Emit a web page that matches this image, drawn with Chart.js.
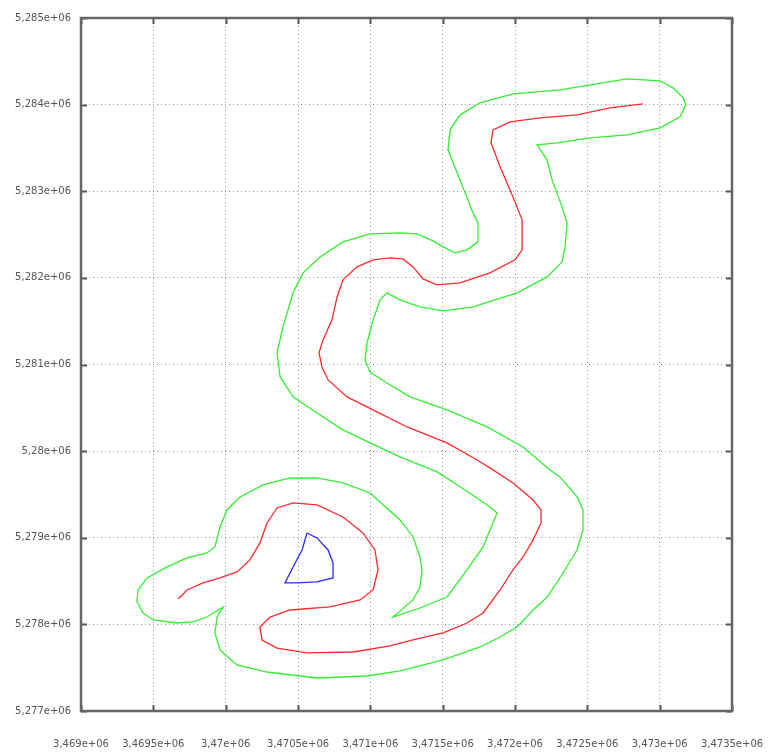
<!DOCTYPE html>
<html>
<head>
<meta charset="utf-8">
<script src="https://cdn.jsdelivr.net/npm/chart.js@4/dist/chart.umd.min.js"></script>
<style>
html,body{margin:0;padding:0;background:#fff;}
canvas{display:block;}
</style>
</head>
<body>
<canvas id="c" width="777" height="754"></canvas>
<script>
// Tick values
const xTicks = [3469000,3469500,3470000,3470500,3471000,3471500,3472000,3472500,3473000,3473500];
const yTicks = [5277000,5278000,5279000,5280000,5281000,5282000,5283000,5284000,5285000];

// Green contour (closed)
const greenX = [3473182,3473162,3473092,3473003,3472775,3472519,3472311,3471986,3471758,3471620,
3471551,3471537,3471620,3471710,3471744,3471744,3471668,3471585,3471503,3471433,
3471323,3471205,3470998,3470811,3470652,3470535,3470466,3470396,3470355,3470376,
3470466,3470631,3470811,3470998,3471205,3471461,3471655,3471827,3471876,3471779,
3471668,3471530,3471343,3471157,3471295,3471343,3471357,3471343,3471295,3471205,
3471067,3470998,3470811,3470631,3470445,3470258,3470099,3470009,3469961,3469926,
3469871,3469733,3469595,3469456,3469394,3469387,3469429,3469498,3469664,3469774,
3469871,3469982,3469940,3469926,3469961,3470078,3470286,3470631,3470977,3471205,
3471503,3471758,3471897,3472014,3472125,3472222,3472332,3472429,3472470,3472470,
3472429,3472311,3472242,3472056,3471807,3471530,3471274,3471115,3470998,3470963,
3470977,3471019,3471067,3471115,3471205,3471343,3471503,3471710,3472014,3472222,
3472325,3472346,3472360,3472325,3472256,3472222,3472152,3472291,3472519,3472775,
3473003,3473141,3473182];
const greenY = [5283997,5284078,5284194,5284275,5284298,5284228,5284171,5284124,5284021,5283882,
5283709,5283478,5283131,5282750,5282635,5282416,5282323,5282289,5282358,5282427,
5282508,5282519,5282508,5282416,5282242,5282058,5281827,5281434,5281134,5280857,
5280626,5280441,5280245,5280095,5279933,5279760,5279552,5279356,5279286,5278894,
5278628,5278316,5278189,5278085,5278282,5278432,5278628,5278778,5279009,5279206,
5279413,5279517,5279633,5279690,5279690,5279610,5279471,5279321,5279125,5278894,
5278824,5278767,5278663,5278536,5278397,5278259,5278132,5278051,5278016,5278028,
5278085,5278201,5278085,5277901,5277704,5277531,5277450,5277381,5277404,5277462,
5277589,5277739,5277854,5277970,5278166,5278316,5278593,5278859,5279090,5279321,
5279471,5279702,5279783,5280048,5280279,5280476,5280626,5280787,5280914,5281053,
5281249,5281515,5281746,5281827,5281746,5281665,5281619,5281665,5281827,5282011,
5282185,5282358,5282635,5282820,5283131,5283362,5283536,5283559,5283616,5283651,
5283732,5283859,5283997];

// Red contour (open)
const redX = [3472885,3472657,3472429,3472173,3471966,3471848,3471834,3471897,3471986,3472049,
3472049,3472000,3471827,3471620,3471461,3471364,3471295,3471226,3471136,3471019,
3470908,3470811,3470770,3470735,3470673,3470645,3470666,3470708,3470839,3471046,
3471254,3471530,3471738,3471848,3471986,3472125,3472180,3472180,3472125,3472056,
3471986,3471897,3471779,3471668,3471503,3471295,3471136,3470880,3470562,3470355,
3470251,3470237,3470307,3470445,3470721,3470929,3471019,3471053,3471032,3470949,
3470811,3470631,3470466,3470355,3470286,3470237,3470168,3470078,3469961,3469843,
3469733,3469671];
const redY = [5284009,5283963,5283882,5283847,5283801,5283709,5283559,5283282,5282935,5282670,
5282323,5282208,5282058,5281942,5281919,5281988,5282127,5282219,5282231,5282208,
5282127,5281977,5281780,5281515,5281284,5281134,5280972,5280822,5280626,5280453,
5280279,5280095,5279898,5279783,5279633,5279436,5279321,5279171,5278975,5278778,
5278628,5278397,5278132,5278016,5277901,5277820,5277751,5277681,5277670,5277727,
5277820,5277970,5278085,5278166,5278201,5278282,5278397,5278628,5278859,5279055,
5279240,5279379,5279402,5279344,5279171,5278940,5278744,5278605,5278536,5278478,
5278397,5278293];

// Blue contour (closed)
const blueX = [3470562,3470631,3470708,3470742,3470742,3470631,3470493,3470410,3470466,3470528,3470562];
const blueY = [5279055,5278998,5278859,5278709,5278536,5278490,5278478,5278478,5278663,5278859,5279055];

function pts(xs, ys){ return xs.map((x,i)=>({x:x, y:ys[i]})); }
function fmt(v){
  let s = (v/1e6).toFixed(4).replace(/0+$/,'').replace(/\.$/,'');
  return s.replace('.', ',') + 'e+06';
}

const framePlugin = {
  id: 'frame',
  afterDatasetsDraw(chart){
    const {ctx, chartArea:a, scales} = chart;
    ctx.save();
    ctx.strokeStyle = '#555';
    ctx.lineWidth = 2;
    ctx.beginPath();
    xTicks.forEach(v=>{
      const px = Math.round(scales.x.getPixelForValue(v))+0.5;
      ctx.moveTo(px, a.bottom); ctx.lineTo(px, a.bottom-6);
      ctx.moveTo(px, a.top); ctx.lineTo(px, a.top+6);
    });
    yTicks.forEach(v=>{
      const py = Math.round(scales.y.getPixelForValue(v))+0.5;
      ctx.moveTo(a.left, py); ctx.lineTo(a.left+6, py);
      ctx.moveTo(a.right, py); ctx.lineTo(a.right-6, py);
    });
    ctx.stroke();
    ctx.lineWidth = 2.5;
    ctx.strokeStyle = '#666';
    ctx.strokeRect(a.left, a.top, a.right-a.left, a.bottom-a.top);
    ctx.restore();
  }
};

new Chart(document.getElementById('c'), {
  type: 'scatter',
  data: {
    datasets: [
      {data: pts(greenX, greenY), borderColor:'#33ee33', showLine:true, pointRadius:0, borderWidth:1.3, tension:0},
      {data: pts(redX, redY), borderColor:'#ff2a2a', showLine:true, pointRadius:0, borderWidth:1.3, tension:0},
      {data: pts(blueX, blueY), borderColor:'#2a2aff', showLine:true, pointRadius:0, borderWidth:1.3, tension:0}
    ]
  },
  options: {
    responsive: false,
    animation: false,
    layout: {padding: {top: 18, right: 45, left: 0, bottom: 0}},
    plugins: {legend:{display:false}, tooltip:{enabled:false}},
    scales: {
      x: {
        type: 'linear', min: 3469000, max: 3473500,
        afterBuildTicks(s){ s.ticks = xTicks.map(v=>({value:v})); },
        afterFit(s){ s.height = 43; s.paddingLeft = 0; s.paddingRight = 0; },
        grid: {color:'#9a9a9a', lineWidth:1, drawTicks:false},
        border: {display:false, dash:[1,3]},
        ticks: {autoSkip:false, maxRotation:0, padding:27, color:'#555',
          font:{family:'DejaVu Sans', size:10}, callback:(v)=>fmt(v)}
      },
      y: {
        type: 'linear', min: 5277000, max: 5285000,
        afterBuildTicks(s){ s.ticks = yTicks.map(v=>({value:v})); },
        afterFit(s){ s.width = 81; s.paddingTop = 0; s.paddingBottom = 0; },
        grid: {color:'#9a9a9a', lineWidth:1, drawTicks:false},
        border: {display:false, dash:[1,3]},
        ticks: {autoSkip:false, padding:10, color:'#555',
          font:{family:'DejaVu Sans', size:10}, callback:(v)=>fmt(v)}
      }
    }
  },
  plugins: [framePlugin]
});
</script>
</body>
</html>
